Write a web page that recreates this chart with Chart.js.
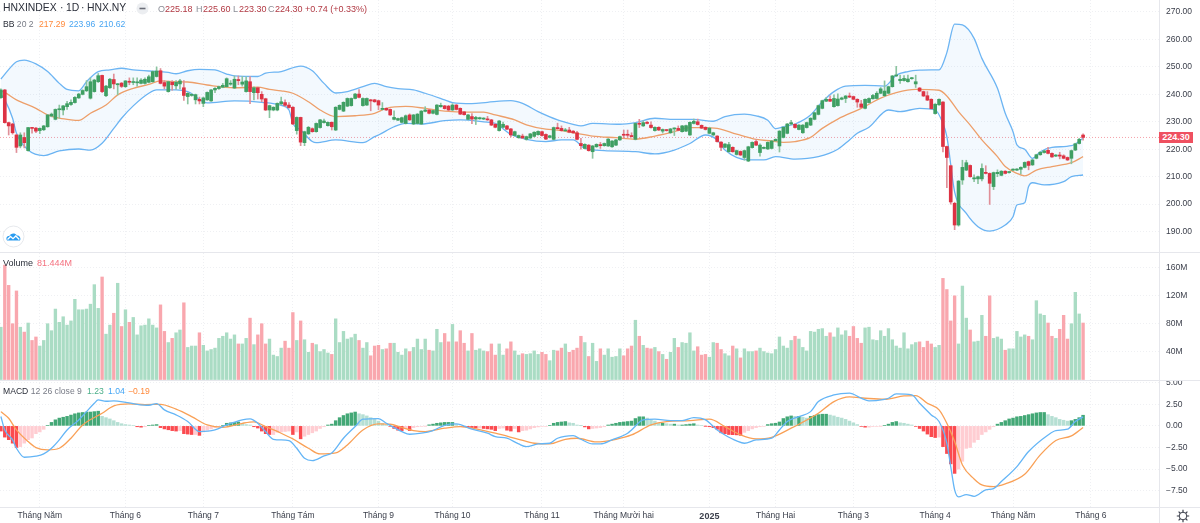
<!DOCTYPE html>
<html><head><meta charset="utf-8">
<script src="https://cdn.jsdelivr.net/npm/chart.js@4"></script>
<style>
html,body{margin:0;padding:0;background:#fff;width:1200px;height:523px;overflow:hidden;font-family:"Liberation Sans",Arial,sans-serif}
canvas{position:absolute;left:0;display:block}
.t{position:absolute;white-space:nowrap;line-height:12px;height:12px;font-size:9px;color:#4a4e5a}
.sep{position:absolute;background:#e6e7ec}
</style></head><body>
<canvas id="price" width="1200" height="252" style="top:0px"></canvas>
<canvas id="volume" width="1200" height="127" style="top:253px"></canvas>
<canvas id="macd" width="1200" height="143" style="top:380px"></canvas>
<div class="sep" style="left:0;top:252px;width:1200px;height:1px"></div>
<div class="sep" style="left:0;top:380px;width:1200px;height:1px"></div>
<div class="sep" style="left:0;top:507px;width:1200px;height:1px"></div>
<div class="sep" style="left:1159px;top:0;width:1px;height:523px"></div>

<div class="t" style="left:3px;top:2px;font-size:10.4px;color:#2a2e39">HNXINDEX</div>
<div class="t" style="left:60px;top:2px;font-size:10.4px;color:#2a2e39">·</div>
<div class="t" style="left:66px;top:2px;font-size:10.4px;color:#2a2e39">1D</div>
<div class="t" style="left:81px;top:2px;font-size:10.4px;color:#2a2e39">·</div>
<div class="t" style="left:87px;top:2px;font-size:10.4px;color:#2a2e39">HNX.NY</div>
<svg style="position:absolute;left:136px;top:2px" width="13" height="13"><circle cx="6.5" cy="6.5" r="6" fill="#eceef1"/><rect x="3.5" y="5.7" width="6" height="1.6" fill="#6a6d78"/></svg>
<div class="t" style="left:158px;top:3px;color:#8a8d96">O</div><div class="t" style="left:165px;top:3px;color:#b23a44">225.18</div>
<div class="t" style="left:196px;top:3px;color:#8a8d96">H</div><div class="t" style="left:203px;top:3px;color:#b23a44">225.60</div>
<div class="t" style="left:233px;top:3px;color:#8a8d96">L</div><div class="t" style="left:239px;top:3px;color:#b23a44">223.30</div>
<div class="t" style="left:268px;top:3px;color:#8a8d96">C</div><div class="t" style="left:275px;top:3px;color:#b23a44">224.30</div>
<div class="t" style="left:305px;top:3px;color:#b23a44">+0.74 (+0.33%)</div>
<div class="t" style="left:3px;top:18px;font-size:8.6px"><span style="color:#2a2e39">BB</span> <span style="color:#787b86">20 2</span></div>
<div class="t" style="left:39px;top:18px;font-size:8.6px;color:#ff8a3c">217.29</div>
<div class="t" style="left:69px;top:18px;font-size:8.6px;color:#4aa6f2">223.96</div>
<div class="t" style="left:99px;top:18px;font-size:8.6px;color:#4aa6f2">210.62</div>
<div class="t" style="left:3px;top:257px;color:#2a2e39">Volume</div>
<div class="t" style="left:37px;top:257px;color:#f4717f">81.444M</div>
<div class="t" style="left:3px;top:385px;font-size:8.6px"><span style="color:#2a2e39">MACD</span> <span style="color:#787b86">12 26 close 9</span></div>
<div class="t" style="left:87px;top:385px;font-size:8.6px;color:#4caf8a">1.23</div>
<div class="t" style="left:108px;top:385px;font-size:8.6px;color:#42a5f5">1.04</div>
<div class="t" style="left:128px;top:385px;font-size:8.6px;color:#ff8a3c">−0.19</div>
<div class="t" style="left:1159px;top:132px;width:34px;height:11px;line-height:11px;background:#ef5060;color:#fff;text-align:center;font-weight:bold">224.30</div>

<svg style="position:absolute;left:2px;top:225px" width="23" height="23"><circle cx="11.5" cy="11.5" r="10.5" fill="#fff" stroke="#e6e8ec"/><path d="M5 15.5c-1.6-2.6.4-4.8 2.4-4.4.9-2.8 5.6-3.8 7.4-.6 2.4-.6 4.6 2.4 3.2 5z" fill="#2a9cf0"/><path d="M5.5 14.5l3-3 2.5 2.2 2.8-2.7 3.5 3.5" fill="none" stroke="#fff" stroke-width="1.3"/></svg>
<svg style="position:absolute;left:1176px;top:509px" width="14" height="14" viewBox="0 0 14 14"><circle cx="7" cy="7" r="3.8" fill="none" stroke="#3a3e4a" stroke-width="1"/><g stroke="#3a3e4a" stroke-width="1.2"><path d="M7 .8v2.4M7 10.8v2.4M.8 7h2.4M10.8 7h2.4M2.6 2.6l1.7 1.7M9.7 9.7l1.7 1.7M2.6 11.4l1.7-1.7M9.7 4.3l1.7-1.7"/></g></svg>

<script>
const opens=[238.8,241.6,229.7,229.2,225.2,221.2,224.3,219.5,227.9,227.7,
226.8,227.1,228.2,232.1,230.9,234.4,234.3,235.5,236.3,237,
238.7,240,241.3,238.6,241,244.6,246.9,239.5,242.4,245.4,
243.5,244.1,242.8,244.6,244.3,244.2,244,244,244.4,244.6,
246.5,248.6,244.3,241,244.4,243.1,243.8,242.4,239.2,239.6,
238,238.2,236.7,238,237.6,241.6,242.1,242.6,242.8,243.7,
242.3,245.4,243.7,241,244.6,240.6,242.4,240,238.4,234.3,
234.3,234.3,236.5,237,236.1,235.3,226.8,231.6,222.4,225.6,
227.5,226.4,227.9,229.7,228.6,229.8,227,234.5,233.9,235.7,
235.9,238.5,240.1,235.9,236.1,238,238,237.7,234.5,234.9,
234.5,230.9,230.6,229.8,229.4,232.5,229.2,229.4,229.2,233.8,
234.3,233.1,232.7,235.5,235.8,235.7,234.3,236.1,234.9,233.6,
230.9,231.9,231,231.1,231,231,230.7,229.1,226.8,228,
228.5,227.4,225,224.2,224.8,223.6,224.1,224.7,225.3,226.4,
225.4,224.3,223.6,227.9,227.6,226.7,227,226.6,226,222.1,
220.3,221.5,219.1,220.9,221.7,221.3,221.2,220.9,221.5,223.4,
225.4,225.3,225,223.6,229.4,228.5,229.8,228.8,226.8,228,
226.6,227,226,227.4,227.6,226.4,226.6,225.2,229.4,230,
228.7,228,225.8,225.2,224.8,222.6,220.7,219.1,220.7,218.1,
219.2,217,215.7,220.6,222.8,218.8,220.3,220.1,220.3,223.1,
221.2,224.3,225.8,229.2,229.1,227.2,226,227.9,228.8,230.9,
232.7,234.9,237.5,238.2,235.5,235.9,238.2,238.5,239.4,239.2,
238.2,236.5,234.9,237,238.4,238.5,240.4,239.5,240.4,242.8,
246.7,245,245,244.6,245.7,243.8,242.3,241,239.5,238.2,
233,236.2,237.2,221,214,200.3,192.4,208.8,212.4,214.1,
209.2,209.2,209.2,211.6,211.2,206.4,211.1,210.5,212,211.5,
212.4,212.4,212.7,213.4,215.5,214.3,216.7,218,218.8,219.6,
218.5,217.5,217.9,217.6,217,216.7,219.7,222.1,225.18];
const closes=[241.6,229.7,228.5,226,220.7,225.2,222.4,227.9,227.6,226.6,
227.6,228.5,232.5,232.8,234.5,234.7,235.8,236.6,237.1,238.9,
240.1,241.4,242.8,244.6,245.2,246.8,241,243,245.5,243.8,
243.7,242.9,244.9,244.4,244.5,244.5,245.2,245.5,246.4,248.3,
248.5,244,243,244.6,243.5,244.4,244.9,239.6,240.4,240,
239.9,237.6,238.7,240.7,241.6,242.2,242.8,243.3,245.7,244,
245.5,245,244.5,244.9,241,242.4,240.6,238.3,234.3,235.9,
235.3,236.7,237.3,236,235.2,229.2,231.6,222.6,226.4,228,
226.4,229.4,230.7,230.3,229.8,228.2,235.3,236,237.1,238.5,
238.5,240.1,238.9,238.5,238.5,237.6,237.3,236.1,234.9,234.3,
232.5,231.6,231.2,231.5,232.2,230.7,232.5,232.8,233.9,234.3,
233.1,234.1,236.1,236,234.8,234.3,236.1,234.5,232.8,232.6,
232.5,231,231.6,231.5,231.3,230.7,228.8,228,230.3,229.1,
227.3,225.2,226.4,225,224.1,224.6,225.6,226.2,226.5,225,
223.7,224.9,227.9,227.5,226.8,227,226.2,226,223.6,221.3,
221.8,219.5,221.2,221.8,221.3,222.1,223.7,223,223.4,224.6,
225.1,225.1,224.6,229.4,229.1,229.7,229.4,227.9,228,227,
227.2,226.8,227.4,227.6,226.9,228.5,228.6,229.8,230.2,229,
227.7,227.2,227.7,226,222.8,220.7,221.9,221.7,219.1,219.5,
217.9,219.5,220.9,222.5,221.5,221.5,220.7,222.5,223,223.6,
226.6,228,229.2,229.7,227.9,228.8,228.8,229.7,231.3,233.3,
235.9,237.7,238.2,237.5,238.5,238.3,238.7,239.4,239,238.2,
237.2,235.3,238.2,238.5,239.6,240.4,242,241.2,242.8,246.7,
247,245.5,245.8,245.6,246,244.6,241.2,239.4,237.9,234.8,
236.4,238.2,221,217,200.8,192.4,208.4,213.4,215.1,210,
209.6,210,213,211.2,207.6,211.5,211.6,212,211.2,211.8,
212.7,212.8,213.4,215.2,214.1,216.1,218,218.9,219.4,218.5,
217.2,217.9,217.5,216.7,216.1,219.5,222,223.6,224.3];
const highs=[242,241.8,229.9,229.5,225.5,226,226,228,228,228,
227.8,228.7,232.6,233.2,234.7,236.1,236,237.5,238,239.2,
240.4,241.7,245,246,245.5,247.6,247,243.3,245.8,247.4,
244,244.3,245,246,246,246,245.7,246,247,248.5,
250,249.4,245,244.8,245,245,245.5,245,240.6,240.2,
240.1,239,239,240.9,241.8,242.5,243,244,246,245,
246.7,246.7,246.5,246.4,246.5,242.7,242.6,241,238.6,236.1,
235.5,236.9,239,238,237,235.5,231.8,231.7,226.6,228.3,
227.8,229.6,230.9,231,230,230,235.5,236.2,237.3,238.7,
238.7,240.4,241.7,238.7,238.7,238.2,238.2,237.9,237,235.1,
234.7,234,231.4,231.7,232.5,232.9,232.7,233,234.1,235.5,
234.5,234.3,236.3,236.8,236,236,236.6,236.3,235.1,233.8,
232.7,233,232,231.7,231.5,232,230.9,229.3,230.5,229.9,
228.7,227.6,226.6,225.2,225.5,224.8,225.8,226.4,226.7,226.6,
225.6,225.1,228.1,229.5,228.5,227.6,228,226.8,226.5,224,
222,221.7,221.4,222,222.5,222.3,223.9,223.2,223.6,224.8,
227,227,226,229.6,230.9,230.3,230.2,230,228.2,228.2,
227.4,227.2,227.6,227.8,228.5,228.7,228.8,230,231,231,
228.9,228.2,227.9,226.2,225,222.8,222.1,222.5,220.9,219.7,
219.4,219.7,221.1,222.7,223.5,222,220.9,222.7,223.2,223.8,
226.8,228.2,229.4,230.5,229.3,229,229,229.9,231.5,233.5,
236.1,237.9,238.8,239.5,239.8,240.2,239,239.6,240.5,239.4,
238.4,237.8,238.4,238.7,240,241,242.5,244.9,243,246.9,
250.2,247,246.8,247,246.2,247,242.5,241.2,241,238.4,
236.6,238.4,237.4,221.2,214.2,200.7,208.6,216,216,214.3,
210.7,210.2,214.7,214,211.4,211.7,212.5,212.2,212.2,212,
212.9,213,213.6,215.4,215.7,216.3,218.2,219.1,219.6,220.7,
218.7,218.1,218.9,218,217.2,219.7,222.2,224,225.6];
const lows=[238.5,229.5,225.2,225.5,218.8,220.5,220.5,219.3,225.9,226,
225.7,226.8,228,231.8,230.7,231.3,232.5,234.5,236,236.8,
238.5,239.8,241,238.3,240.8,244.3,240.6,239.2,242.2,242,
239.8,242.5,242.5,243.5,243.5,243,243.8,243.7,244.2,244.4,
246.3,243.8,242,240.8,241.5,241.8,242,237.8,236.5,239.3,
236.5,236.5,235.5,237.8,237.4,240.6,241.8,242.4,242.6,243.3,
242.1,243.5,243,240.8,236.6,238,238.3,237.3,234.1,231.5,
234,234,236.3,235.6,235,229,225.5,221.3,221.3,225.4,
226.2,226.2,227.7,229.5,228.4,227,226.8,234.3,233.7,235.5,
235.7,238.3,238.7,235.7,235.9,234,237.1,234.4,234.3,234.1,
232.3,230.7,230.4,229.6,229.2,230.5,229,229.2,229,233.6,
232.9,232.9,232.5,235.3,234.6,234.1,234.1,234.3,232.6,232.4,
230.7,229.3,229,230.9,230.8,230.5,228.6,227.8,226.6,227.8,
227.1,224.5,224.8,224,223.9,223.3,223.9,224.5,225.1,224.8,
223.5,224.1,223.4,227.3,226.6,226.5,226,225.8,223.4,220,
220.1,219.3,216.7,220.7,220.3,221.1,221,220.7,221.3,223.2,
224,224.3,224.4,223.4,227.9,228.3,229.2,227.7,226.6,226.8,
225.9,226.6,225.8,225,226.7,226.2,226.4,225,229.2,228.8,
227.5,227,225.6,225,222.6,219.5,220.5,218.9,218.9,217.9,
217.7,216,215.5,220.4,221.3,217.5,220.1,219.9,220.1,222.9,
219,224.1,225.6,229,227.7,227,225.8,227.7,228.6,230.7,
232.5,234.7,237.3,237.3,235.3,235.7,238,237,238.8,238,
235.3,235.1,234.7,236.8,238.2,238.3,240.2,239.3,240.2,242.6,
246.5,244,244.8,244.4,245.5,242.5,241,239.2,237.7,234.6,
232.8,236,219,206,200,190.7,192,207.2,212.2,209.8,
208.2,207.5,208.5,211,199.9,205.3,210,210.3,211,211.3,
212.2,212.2,211,213.2,212.5,214.1,216.5,217.8,218.6,218.3,
217,217.3,216.5,216.5,215.9,214.7,219.5,221.9,223.3];
const volumes=[75,164,135,80,127,75,68,81,56,61,48,56,80,70,101,82,90,78,84,115,100,100,101,108,136,102,147,65,78,95,138,76,100,82,89,64,77,78,87,78,74,107,69,53,59,67,71,110,46,48,48,67,49,41,43,45,59,62,67,58,64,51,51,59,88,50,64,80,51,58,35,33,45,55,45,96,56,84,57,39,52,50,40,43,38,36,87,53,69,58,60,65,56,45,53,34,48,49,43,44,52,52,39,
35,44,40,46,58,43,58,42,41,72,53,66,54,79,54,70,52,41,66,42,44,41,40,51,35,51,35,44,54,41,35,37,36,37,41,36,39,36,27,42,41,45,51,39,42,45,62,53,33,52,26,44,35,44,32,33,44,34,44,48,85,62,49,45,44,46,40,36,29,39,59,46,53,52,67,41,47,35,36,32,53,52,43,37,34,48,44,31,44,40,40,41,45,40,38,37,43,61,48,45,56,62,58,
46,41,69,68,72,73,62,67,61,74,64,70,62,76,59,52,74,75,57,56,70,62,73,57,48,45,67,44,50,53,54,46,55,51,46,49,145,129,84,120,51,134,88,71,54,55,92,62,120,59,61,58,42,44,44,69,61,64,62,57,113,94,92,81,62,59,72,92,58,80,125,94,81];
const histogram=[-0.6,-1.3,-1.6,-2,-2.5,-2.4,-2,-1.6,-1.4,-0.9,-0.7,-0.4,0.05,0.4,0.7,0.9,1,1.1,1.25,1.4,1.5,1.55,1.6,1.6,1.65,1.7,1.1,0.95,0.8,0.6,0.4,0.25,0.15,0.1,0.05,-0.1,-0.15,-0.1,0.05,0.1,0.15,-0.2,-0.35,-0.45,-0.55,-0.6,-0.55,-0.9,-0.95,-1,-1,-1.1,-0.7,-0.5,-0.35,-0.2,-0.1,0.05,0.3,0.35,0.4,0.45,0.2,0.15,0.1,-0.1,-0.25,-0.6,-0.9,-1,-1,-0.75,-0.7,-0.65,-0.6,-1,-0.7,-1.5,-1.2,-1,-0.8,-0.6,-0.3,-0.1,0.1,0.2,0.6,0.95,1.2,1.4,1.5,1.6,1.4,1.3,1.15,0.95,0.8,0.55,0.3,0.1,-0.05,-0.3,-0.5,
-0.55,-0.3,-0.55,-0.2,-0.1,-0.05,-0.02,0.12,0.2,0.3,0.35,0.4,0.4,0.4,0.15,-0.05,-0.1,-0.15,-0.2,-0.25,-0.25,-0.3,-0.35,-0.4,-0.55,-0.3,-0.25,-0.5,-0.6,-0.3,-0.7,-0.55,-0.5,-0.35,-0.2,-0.12,-0.05,-0.05,0.05,0.3,0.4,0.45,0.5,0.35,0.3,0.1,0.02,-0.12,-0.35,-0.3,-0.25,-0.2,-0.1,0.1,0.2,0.3,0.4,0.45,0.5,0.55,0.85,1.05,1.05,0.9,0.7,0.55,0.3,0.3,0.25,0.2,0.2,0.1,0.1,0.15,0.2,0.25,0.1,0.05,-0.02,-0.1,-0.2,-0.4,-0.8,-0.9,-1,-1.02,-1.04,-1.1,-0.75,-0.55,-0.35,-0.2,-0.1,-0.05,0.15,0.25,0.3,0.45,0.85,1.05,1.15,1.1,1.1,
1,0.9,1.1,1.2,1.3,1.35,1.35,1.25,1.15,1,0.9,0.75,0.55,0.35,0.15,-0.05,-0.15,-0.15,-0.07,-0.05,-0.02,0.05,0.2,0.4,0.5,0.35,0.3,0.2,0.1,-0.05,-0.3,-0.6,-0.95,-1.25,-1.35,-1.3,-2.4,-3.2,-4.4,-5.5,-5,-4.1,-2.6,-2.5,-1.9,-1.6,-1,-0.7,-0.4,-0.1,0.2,0.4,0.6,0.8,0.9,1.05,1.1,1.2,1.3,1.4,1.5,1.55,1.55,1.3,1.1,0.95,0.75,0.65,0.55,0.6,0.75,0.95,1.23];

const upperDays=[0,4,6,9,12,15,17,20,22,25,28,31,34,38,40,43,45,48,51,55,58,60,66,68,72,77,80,83,86,89,93,96,99,102,106,109,114,116,121,125,131,134,138,143,147,149,152,159,163,168,173,178,183,186,191,194,197,199,201,204,208,211,214,217,222,227,230,233,236,239,241,243,245,247,250,252,256,258,260,261,263,265,267,270,275,278];
const upperBand=[245.6,251.9,252.5,251.1,248.3,244,241.8,241.3,244.6,248.3,248.9,249.5,248.9,248.5,248.4,248,247.5,248.6,249.1,248.9,247.4,246.7,246.5,247.7,248.3,250.3,248.6,244,240.5,241,242.8,244,242.8,242.1,241.6,240.4,238,237,236.6,237.1,237.7,236.7,233.7,230.7,229.1,228.5,229.4,229.1,229.7,231.3,230.9,230.9,230.2,231.9,232.8,232.2,230.6,227.5,228.2,229.2,232.5,237.3,241,243,243.3,243,247,248.3,248.8,248.9,248.9,255.2,265.6,265.3,260.4,253.1,242.2,233.1,226.4,221.6,220,216.7,219.1,220.7,221.3,223.96];
const lowerDays=[0,1,3,4,7,11,15,20,23,26,29,31,34,38,40,45,48,53,60,67,72,74,75,77,80,81,86,93,96,97,101,104,108,114,118,124,127,131,135,140,144,147,150,155,163,168,173,177,181,184,186,192,196,199,204,210,215,218,220,223,228,231,236,240,242,243,245,248,251,254,258,260,261,263,264,265,268,273,275,278];
const lowerBand=[240,238,231.3,225.8,219.7,217.7,219.4,220.1,219.7,222.2,227.6,231.3,235.8,240.4,241.6,241.6,241,236.9,237.6,237.1,236,234.3,229.4,227,222.8,222.4,223.4,222.4,224.6,225.2,228.2,229.4,229.2,230.4,230.7,230,229.4,225.4,223.6,222.8,223.4,223.4,220.3,219.5,219.1,218.3,219.7,222.1,225.2,223.4,219.7,216.1,216.1,217.3,216.4,217.3,220,223.4,225.8,228,234.3,233.7,234.9,234.3,229.4,224.6,204.5,196.6,191.8,190.2,192.4,195.4,199.7,200.5,206.4,207.8,207,208.2,210,210.62];
const basisDays=[0,1,4,9,12,15,18,20,23,27,30,34,38,41,45,48,53,60,66,69,72,75,79,82,86,91,96,99,104,109,114,120,124,127,132,135,140,143,148,152,158,163,168,173,177,180,184,189,194,198,201,204,208,211,215,221,226,230,235,241,243,246,249,252,256,258,261,263,266,270,275,278];
const basisLine=[241.3,240.7,238,234.9,232.5,231.3,230.7,230.5,233.1,236.1,239.8,242.2,243.6,244.9,244.6,244.5,243.4,242.4,242.6,241.8,241.3,240.4,237.3,234.3,231.9,232.2,233.1,234.9,235.6,234.9,233.9,233.5,233.5,232.5,230.7,228.9,227.3,227,225.8,224.8,224.2,223.7,224.8,226.4,227.9,227.9,227.6,225.5,223.6,223,222.5,222.8,224.3,227.6,231,234.9,238.6,240.6,241.8,241.5,239.4,233.7,228.8,223.4,217.3,213.7,211.2,210.3,212.4,213.7,215.1,217.29];
const macdDays=[0,1,3,4,6,9,11,13,15,17,20,22,24,25,27,29,32,35,38,40,42,45,48,51,55,58,62,64,66,68,70,74,76,78,80,83,85,88,91,93,97,99,103,105,108,111,114,117,121,125,127,130,133,135,138,141,143,147,149,152,154,157,161,162,165,168,172,175,178,181,184,186,189,191,194,198,200,202,205,208,210,214,218,221,223,227,228,230,234,236,239,241,243,244,245,246,248,250,253,255,257,261,264,269,271,274,276,278];
const macdLine=[1.08,-0.47,-1.62,-2.59,-3.63,-3.51,-3.25,-2.59,-1.62,-0.47,0.69,1.65,2.62,3,2.85,2.89,2.73,2.5,2.39,2.58,1.85,1.27,0.5,-0.66,-0.47,0.11,0.69,0.81,0.3,-0.66,-1.55,-1.7,-2.59,-3.75,-4.02,-3.48,-3.13,-1.43,-0.08,0.77,0.85,0.3,-0.66,-0.97,-0.85,-0.54,0.07,0.23,-0.39,-0.85,-1.24,-1.43,-2.09,-2.4,-2.09,-2.01,-1.43,-1.12,-1.55,-2.09,-2.09,-1.62,-0.85,-0.47,0.69,0.77,0.61,0.61,0.96,0.69,-0.47,-1.05,-1.74,-2.01,-1.62,-1.43,-0.47,0.5,1.08,1.65,2.81,3.58,3.78,3.2,2.89,3.08,3.2,3.7,3.58,2.62,1.27,0.5,-2.01,-4.71,-7.41,-8.22,-7.95,-8.15,-7.41,-7.26,-6.45,-4.71,-2.97,-1.05,-0.54,-0.39,0.5,1.04];
const signalDays=[0,2,4,7,9,12,15,18,21,26,29,33,37,41,45,49,53,57,62,65,68,72,75,79,82,86,89,93,97,100,103,106,109,114,118,122,127,133,137,141,145,148,153,158,162,167,171,177,182,186,190,194,198,203,205,210,214,218,222,227,232,235,238,241,243,245,247,250,252,255,258,263,267,271,275,278];
const signalLine=[1.65,0.88,-0.47,-1.82,-2.51,-2.78,-2.59,-1.43,0.11,1.46,2.31,2.54,2.47,2.5,1.93,1.08,0.11,-0.16,0.3,0.46,-0.08,-0.85,-1.51,-2.59,-3.25,-3.13,-2.2,-0.47,0.23,0.19,-0.2,-0.54,-0.66,-0.27,-0.08,-0.35,-0.85,-1.55,-2.01,-2.09,-1.55,-1.43,-1.86,-1.55,-1.05,0.11,0.5,0.61,0.77,-0.08,-1.05,-1.51,-1.32,-0.27,0.19,1.46,2.81,3.35,3.2,3.08,3.47,3.51,2.62,1.85,0.3,-1.82,-4.52,-6.14,-6.83,-7.03,-6.72,-5.6,-3.36,-1.7,-1.16,-0.19];

const monthDays=[10,32,52,75,97,116,139,160,182,199,219,240,260,280];
const monthLabels=["Tháng Năm","Tháng 6","Tháng 7","Tháng Tám","Tháng 9","Tháng 10","Tháng 11","Tháng Mười hai","2025","Tháng Hai","Tháng 3","Tháng 4","Tháng Năm","Tháng 6"];
const priceTicks=[190,200,210,220,230,240,250,260,270];
const volumeTicks=[40,80,120,160];
const macdTicks=[-7.5,-5,-2.5,0,2.5,5];
const lastClose=224.3;

const GREEN='#3f9f63',RED='#dd3243',WICK_G='#8cc4a0',WICK_R='#e08f98';
const GRID='#eff0f3',TEXT='#3a3e4a';
const XMIN=-0.231,XMAX=297.5;
const FONT='"Liberation Sans",Arial,sans-serif';
Chart.defaults.font.family=FONT;
const up=i=>closes[i]>=opens[i];
const xy=(days,vals)=>days.map((d,i)=>({x:d,y:vals[i]}));

function xScale(showLabels){
  return {type:'linear',min:XMIN,max:XMAX,offset:false,
    afterBuildTicks:s=>{s.ticks=monthDays.map(v=>({value:v}));},
    afterFit:s=>{s.height=showLabels?16:0;s.paddingLeft=0;s.paddingRight=0;s.paddingTop=0;s.paddingBottom=0;},
    grid:{color:GRID,drawTicks:false,offset:false,lineWidth:1},
    border:{display:false,dash:[1,2]},
    ticks:{display:showLabels,autoSkip:false,maxRotation:0,minRotation:0,padding:4,color:TEXT,
      font:c=>(c.tick&&c.tick.value===182)?{size:9,weight:'bold'}:{size:8.5},
      callback:v=>monthLabels[monthDays.indexOf(v)]}};
}
function yScale(min,max,ticks,fmt){
  return {position:'right',min,max,
    afterBuildTicks:s=>{s.ticks=ticks.map(v=>({value:v}));},
    afterFit:s=>{s.width=41;s.paddingTop=0;s.paddingBottom=0;s.paddingLeft=0;s.paddingRight=0;},
    grid:{color:GRID,drawTicks:false},
    border:{display:false,dash:[1,2]},
    ticks:{padding:7,color:TEXT,font:{size:8.5},callback:fmt}};
}
function base(scales){
  return {responsive:false,animation:false,devicePixelRatio:1,events:[],
    layout:{padding:0},plugins:{legend:{display:false},tooltip:{enabled:false}},scales};
}
const idx=opens.map((_,i)=>i);
const smooth={cubicInterpolationMode:'monotone',pointRadius:0,borderWidth:1.3};

new Chart(document.getElementById('price'),{type:'bar',data:{datasets:[
  {type:'line',label:'BB upper',data:xy(upperDays,upperBand),borderColor:'#6db5f3',...smooth,fill:{target:1},backgroundColor:'rgba(33,150,243,0.055)',order:3},
  {type:'line',label:'BB lower',data:xy(lowerDays,lowerBand),borderColor:'#6db5f3',...smooth,fill:false,order:3},
  {type:'line',label:'BB basis',data:xy(basisDays,basisLine),borderColor:'#f9a063',...smooth,fill:false,order:3},
  {type:'line',label:'Last close',data:[{x:XMIN,y:lastClose},{x:XMAX,y:lastClose}],borderColor:'#f5a0a8',borderWidth:1,borderDash:[1,2],pointRadius:0,fill:false,order:4},
  {label:'Wicks',data:idx.map(i=>({x:i,y:[lows[i],highs[i]]})),backgroundColor:idx.map(i=>up(i)?WICK_G:WICK_R),barThickness:1,grouped:false,order:2},
  {label:'Bodies',data:idx.map(i=>({x:i,y:[opens[i],closes[i]]})),backgroundColor:idx.map(i=>up(i)?GREEN:RED),barThickness:3,minBarLength:1,grouped:false,order:1}
]},options:base({x:xScale(false),y:yScale(182.57,274.37,priceTicks,v=>v.toFixed(2))})});

new Chart(document.getElementById('volume'),{type:'bar',data:{datasets:[
  {label:'Volume',data:idx.map(i=>({x:i,y:volumes[i]})),backgroundColor:idx.map(i=>up(i)?'#aadcc4':'#f9a7ae'),barThickness:2.7,grouped:false}
]},options:base({x:xScale(false),y:yScale(-0.7,181.4,volumeTicks,v=>v+'M')})});

const histColor=histogram.map((v,i)=>{const p=i?histogram[i-1]:0;
  return v>=0?(v>=p?'#43a876':'#b5dfd3'):(v<p?'#fb4a4f':'#ffcdd2');});
new Chart(document.getElementById('macd'),{type:'bar',data:{datasets:[
  {type:'line',label:'MACD',data:xy(macdDays,macdLine),borderColor:'#64b5f6',...smooth,order:1},
  {type:'line',label:'Signal',data:xy(signalDays,signalLine),borderColor:'#f9a056',...smooth,order:1},
  {label:'Histogram',data:histogram.map((v,i)=>({x:i,y:v})),backgroundColor:histColor,barThickness:2.8,grouped:false,order:2}
]},options:base({x:xScale(true),y:yScale(-9.39,5.31,macdTicks,v=>v.toFixed(2).replace('-','−'))})});
</script>
</body></html>
